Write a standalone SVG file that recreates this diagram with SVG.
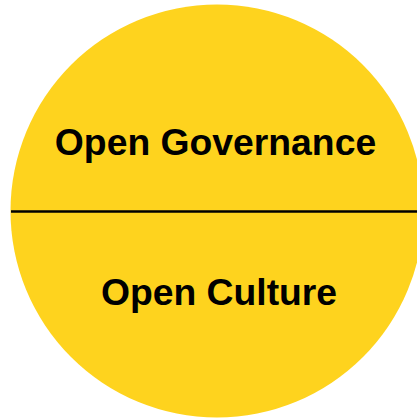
<svg xmlns="http://www.w3.org/2000/svg" width="417" height="420" viewBox="0 0 417 420">
<style>
.lbl{font-family:"Liberation Sans",Arial,sans-serif;font-weight:bold;font-size:37.3px;fill:#000;text-anchor:middle}
</style>
<rect width="417" height="420" fill="#fff"/>
<g id="circle">
<circle cx="217" cy="211" r="206.5" fill="#FED31E"/>
</g>
<g id="connectors">
<line x1="11" y1="211.5" x2="417" y2="211.5" stroke="#000" stroke-width="2.5"/>
</g>
<g id="governance">
<text class="lbl" x="215.5" y="155">Open Governance</text>
</g>
<g id="culture">
<text class="lbl" x="219" y="305">Open Culture</text>
</g>
</svg>
